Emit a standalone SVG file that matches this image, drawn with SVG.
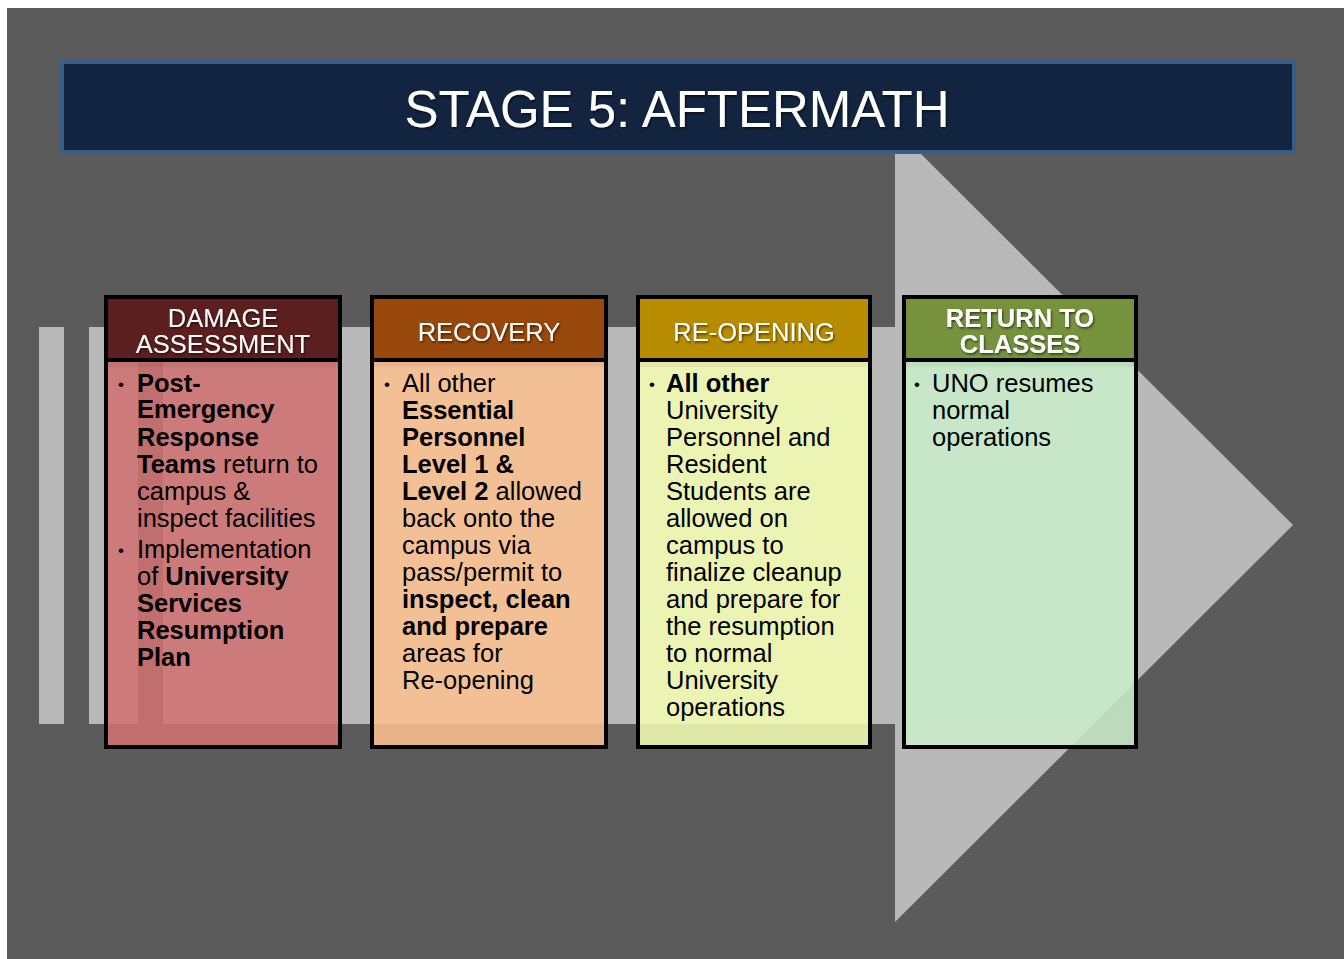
<svg xmlns="http://www.w3.org/2000/svg" width="1344" height="959" viewBox="0 0 1344 959">
<defs>
<filter id="sh" x="-10%" y="-30%" width="120%" height="160%">
<feDropShadow dx="1" dy="1.5" stdDeviation="1" flood-color="#000" flood-opacity="0.6"/>
</filter>
</defs>
<style>
.hd{font-family:"Liberation Sans",Arial,sans-serif;font-size:25.5px;fill:#fff;text-anchor:middle}
.bd{font-family:"Liberation Sans",Arial,sans-serif;font-size:25.5px;fill:#000}
.bl{font-family:"Liberation Sans",Arial,sans-serif;font-size:17px;fill:#000}
.b{font-weight:bold}
.frame{fill:none;stroke:#000;stroke-width:4}
.div{stroke:#000;stroke-width:4}
.body{fill-opacity:0.87}
.band{fill:#000;fill-opacity:0.05}
</style>
<rect x="0" y="0" width="1344" height="959" fill="#fff"/>
<rect x="7" y="8" width="1337" height="951" fill="#5B5B5B"/>
<g id="arrow" fill="#B9B9B9">
<rect x="39" y="327" width="25" height="397"/>
<rect x="89" y="327" width="49" height="397"/>
<rect x="163" y="327" width="733" height="397"/>
<polygon points="895,128 1293,525 895,922"/>
</g>
<g id="title">
<rect x="62" y="62" width="1232" height="90" fill="#12243F" stroke="#385D8A" stroke-width="4"/>
<text x="677" y="127" font-family="'Liberation Sans',Arial,sans-serif" font-size="51" fill="#fff" text-anchor="middle" filter="url(#sh)">STAGE 5: AFTERMATH</text>
</g>
<g id="damage-assessment">
<rect x="106" y="360" width="234" height="387" fill="#D07170" class="body"/>
<rect x="106" y="362" width="234" height="5" class="band"/>
<rect x="106" y="297" width="234" height="62" fill="#5C1F1F"/>
<line x1="106" y1="360" x2="340" y2="360" class="div"/>
<rect x="106" y="297" width="234" height="450" class="frame"/>
<text class="hd" x="223" y="327" filter="url(#sh)">DAMAGE</text>
<text class="hd" x="223" y="353" filter="url(#sh)">ASSESSMENT</text>
<text class="bl" x="118" y="390">•</text>
<text class="bd" x="137" y="392"><tspan class="b">Post-</tspan></text>
<text class="bd" x="137" y="418"><tspan class="b">Emergency</tspan></text>
<text class="bd" x="137" y="446"><tspan class="b">Response</tspan></text>
<text class="bd" x="137" y="473"><tspan class="b">Teams</tspan> return to</text>
<text class="bd" x="137" y="500">campus &amp;</text>
<text class="bd" x="137" y="527">inspect facilities</text>
<text class="bl" x="118" y="556">•</text>
<text class="bd" x="137" y="558">Implementation</text>
<text class="bd" x="137" y="585">of <tspan class="b">University</tspan></text>
<text class="bd" x="137" y="612"><tspan class="b">Services</tspan></text>
<text class="bd" x="137" y="639"><tspan class="b">Resumption</tspan></text>
<text class="bd" x="137" y="666"><tspan class="b">Plan</tspan></text>
</g>
<g id="recovery">
<rect x="372" y="360" width="234" height="387" fill="#FBC08F" class="body"/>
<rect x="372" y="362" width="234" height="5" class="band"/>
<rect x="372" y="297" width="234" height="62" fill="#98480A"/>
<line x1="372" y1="360" x2="606" y2="360" class="div"/>
<rect x="372" y="297" width="234" height="450" class="frame"/>
<text class="hd" x="489" y="341" filter="url(#sh)">RECOVERY</text>
<text class="bl" x="384" y="390">•</text>
<text class="bd" x="402" y="392">All other</text>
<text class="bd" x="402" y="419"><tspan class="b">Essential</tspan></text>
<text class="bd" x="402" y="446"><tspan class="b">Personnel</tspan></text>
<text class="bd" x="402" y="473"><tspan class="b">Level 1 &amp;</tspan></text>
<text class="bd" x="402" y="500"><tspan class="b">Level 2</tspan> allowed</text>
<text class="bd" x="402" y="527">back onto the</text>
<text class="bd" x="402" y="554">campus via</text>
<text class="bd" x="402" y="581">pass/permit to</text>
<text class="bd" x="402" y="608"><tspan class="b">inspect, clean</tspan></text>
<text class="bd" x="402" y="635"><tspan class="b">and prepare</tspan></text>
<text class="bd" x="402" y="662">areas for</text>
<text class="bd" x="402" y="689">Re-opening</text>
</g>
<g id="re-opening">
<rect x="638" y="360" width="232" height="387" fill="#F4FDB3" class="body"/>
<rect x="638" y="362" width="232" height="5" class="band"/>
<rect x="638" y="297" width="232" height="62" fill="#B88C00"/>
<line x1="638" y1="360" x2="870" y2="360" class="div"/>
<rect x="638" y="297" width="232" height="450" class="frame"/>
<text class="hd" x="754" y="341" filter="url(#sh)">RE-OPENING</text>
<text class="bl" x="649" y="390">•</text>
<text class="bd" x="666" y="392"><tspan class="b">All other</tspan></text>
<text class="bd" x="666" y="419">University</text>
<text class="bd" x="666" y="446">Personnel and</text>
<text class="bd" x="666" y="473">Resident</text>
<text class="bd" x="666" y="500">Students are</text>
<text class="bd" x="666" y="527">allowed on</text>
<text class="bd" x="666" y="554">campus to</text>
<text class="bd" x="666" y="581">finalize cleanup</text>
<text class="bd" x="666" y="608">and prepare for</text>
<text class="bd" x="666" y="635">the resumption</text>
<text class="bd" x="666" y="662">to normal</text>
<text class="bd" x="666" y="689">University</text>
<text class="bd" x="666" y="716">operations</text>
</g>
<g id="return-to-classes">
<rect x="904" y="360" width="232" height="387" fill="#CAEECA" class="body"/>
<rect x="904" y="362" width="232" height="5" class="band"/>
<rect x="904" y="297" width="232" height="62" fill="#76923C"/>
<line x1="904" y1="360" x2="1136" y2="360" class="div"/>
<rect x="904" y="297" width="232" height="450" class="frame"/>
<text class="hd b" x="1020" y="327" filter="url(#sh)">RETURN TO</text>
<text class="hd b" x="1020" y="353" filter="url(#sh)">CLASSES</text>
<text class="bl" x="914" y="390">•</text>
<text class="bd" x="932" y="392">UNO resumes</text>
<text class="bd" x="932" y="419">normal</text>
<text class="bd" x="932" y="446">operations</text>
</g>
<g id="connectors"/>
</svg>
